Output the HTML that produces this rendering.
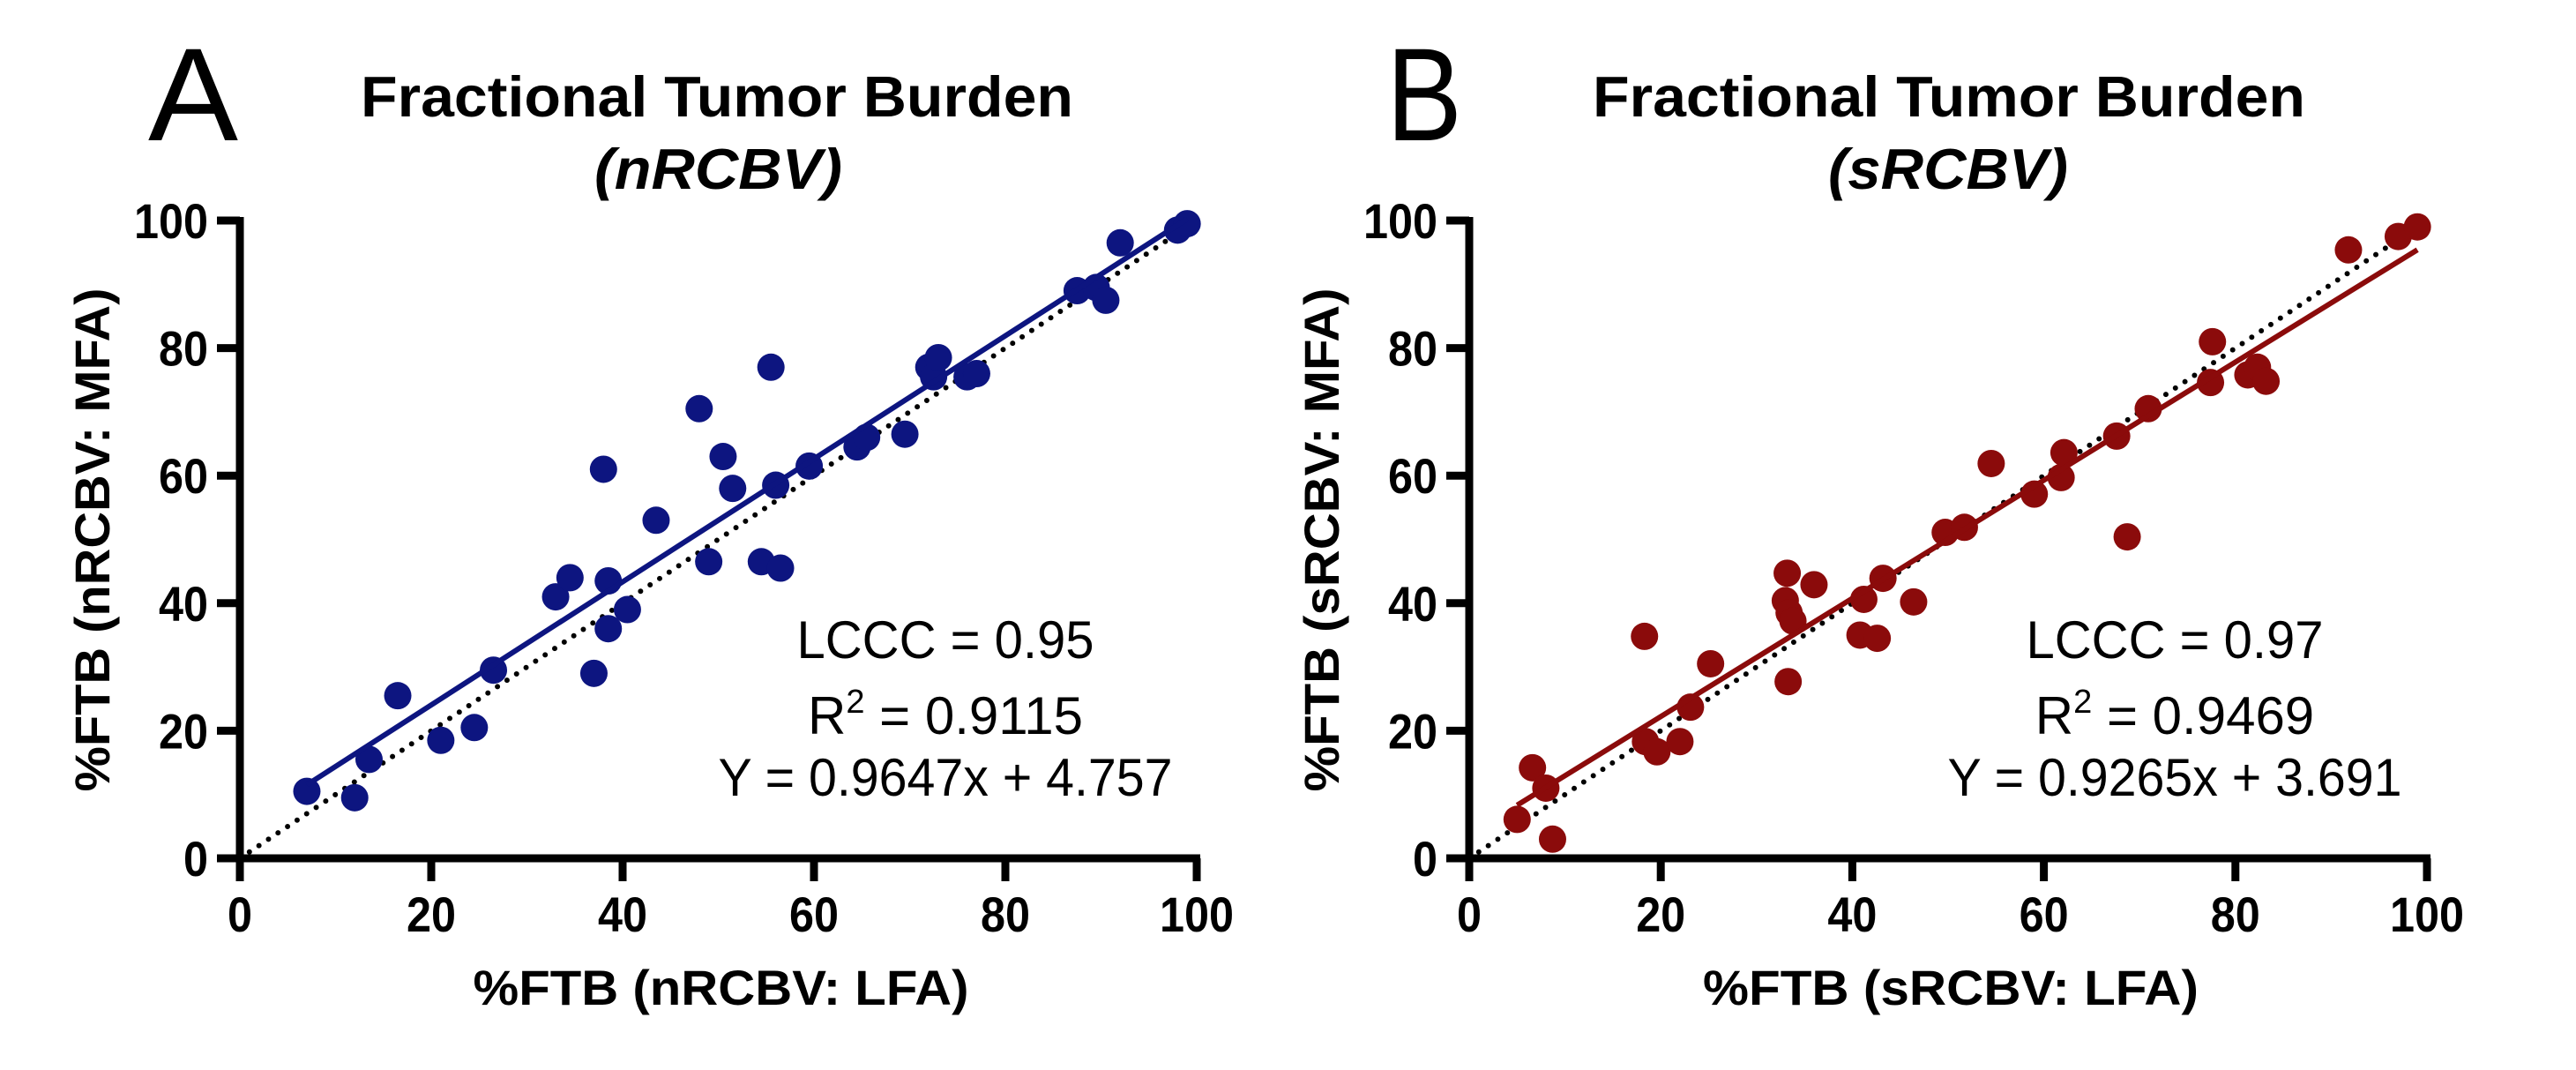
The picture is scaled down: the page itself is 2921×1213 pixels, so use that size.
<!DOCTYPE html>
<html><head><meta charset="utf-8"><style>
html,body{margin:0;padding:0;background:#fff;}
svg{display:block;}
text{font-family:"Liberation Sans Narrow","Liberation Sans",sans-serif;fill:#000;}
</style></head><body>
<svg id="fig" width="2921" height="1213" viewBox="0 0 2921 1213" xmlns="http://www.w3.org/2000/svg">
<rect width="2921" height="1213" fill="#fff"/>
<text x="168" y="159" font-size="150" textLength="102" lengthAdjust="spacingAndGlyphs">A</text>
<text x="1572" y="159" font-size="150" textLength="86" lengthAdjust="spacingAndGlyphs">B</text>
<text x="409" y="132" font-size="65" font-weight="bold" textLength="808" lengthAdjust="spacingAndGlyphs">Fractional Tumor Burden</text>
<text x="674" y="214" font-size="65" font-weight="bold" font-style="italic" textLength="281" lengthAdjust="spacingAndGlyphs">(nRCBV)</text>
<text x="1806" y="132" font-size="65" font-weight="bold" textLength="808" lengthAdjust="spacingAndGlyphs">Fractional Tumor Burden</text>
<text x="2073" y="214" font-size="65" font-weight="bold" font-style="italic" textLength="272" lengthAdjust="spacingAndGlyphs">(sRCBV)</text>
<g id="panelA"></g>
<g id="panelB"></g>
</svg>
<script>
const ticks = [0, 20, 40, 60, 80, 100];
const tickLabels = ["0", "20", "40", "60", "80", "100"];
const aX = [7,12,13.5,16.5,21,24.5,26.5,33,34.5,37,38,38.5,38.5,40.5,43.5,48,49,50.5,51.5,54.5,55.5,56,56.5,59.5,64.5,65.5,69.5,72,72.5,73,76,77,87.5,89.5,90.5,92,98,99];
const aY = [10.5,9.5,15.5,25.5,18.5,20.5,29.5,41,44,29,61,36,43.5,39,53,70.5,46.5,63,58,46.5,77,58.5,45.5,61.5,64.5,66,66.5,77,75.5,78.5,75.5,76,89,89.5,87.5,96.5,98.5,99.5];
const bX = [5,6.6,8,8.7,18.3,18.4,19.6,22,23.1,25.2,33.2,33,33.4,33.8,33.3,36,40.8,41.2,42.6,43.2,46.4,49.7,51.7,54.5,59,61.8,62.1,67.6,68.7,70.9,77.4,77.6,81.3,82.3,83.2,91.8,97,99];
const bY = [6.1,14.2,11,3,34.8,18.3,16.7,18.3,23.7,30.5,44.7,40.4,38.5,37.2,27.7,42.9,35,40.6,34.5,43.9,40.2,51.1,51.9,61.9,57.1,59.7,63.6,66.2,50.4,70.5,74.6,81,75.8,77,74.8,95.4,97.5,99];
const aFit = [0.9647, 4.757];
const bFit = [0.9265, 3.691];
const aStats = ["LCCC = 0.95", "0.9115", "Y = 0.9647x + 4.757"];
const bStats = ["LCCC = 0.97", "0.9469", "Y = 0.9265x + 3.691"];

const NS = "http://www.w3.org/2000/svg";
function mk(parent, tag, attrs, txt){
  const e = document.createElementNS(NS, tag);
  for (const k in attrs) e.setAttribute(k, attrs[k]);
  if (txt !== undefined) e.textContent = txt;
  parent.appendChild(e); return e;
}
function panel(g, cfg){
  const sx = v => cfg.x0 + (cfg.x1 - cfg.x0) * v / 100;
  const sy = v => 973 - (973 - 250) * v / 100;
  const id = mk(g, "line", {x1:sx(0), y1:sy(0), x2:sx(99), y2:sy(99), stroke:"#000", "stroke-width":6, "stroke-dasharray":"0 13", "stroke-linecap":"round"});
  
  
  cfg.xs.forEach((xv, i) => {
    const c = mk(g, "circle", {cx:sx(xv), cy:sy(cfg.ys[i]), r:15.5, fill:cfg.color});
    
    
  });
  const xmin = Math.min(...cfg.xs), xmax = Math.max(...cfg.xs);
  const fl = mk(g, "line", {x1:sx(xmin), y1:sy(cfg.fit[0]*xmin+cfg.fit[1]), x2:sx(xmax), y2:sy(cfg.fit[0]*xmax+cfg.fit[1]), stroke:cfg.color, "stroke-width":6});
  
  
  const ax = mk(g, "path", {d:`M${sx(0)},${sy(100)-4} L${sx(0)},${sy(0)} L${sx(100)+4},${sy(0)}`, stroke:"#000", "stroke-width":9, fill:"none"});
  
  
  ticks.forEach((t, i) => {
    const w = tickLabels[i].length * 28;
    const ty = mk(g, "line", {x1:sx(0)-26, y1:sy(t), x2:sx(0), y2:sy(t), stroke:"#000", "stroke-width":9});
    
    
    const ly = mk(g, "text", {x:sx(0)-36, y:sy(t)+20, "font-size":56, "font-weight":"bold", "text-anchor":"end", textLength:w, lengthAdjust:"spacingAndGlyphs"}, tickLabels[i]);
    
    
    const tx = mk(g, "line", {x1:sx(t), y1:sy(0), x2:sx(t), y2:sy(0)+26, stroke:"#000", "stroke-width":9});
    
    
    const lx = mk(g, "text", {x:sx(t), y:1056, "font-size":56, "font-weight":"bold", "text-anchor":"middle", textLength:w, lengthAdjust:"spacingAndGlyphs"}, tickLabels[i]);
    
    
  });
  const xt = mk(g, "text", {x:(sx(0)+sx(100))/2 + 3, y:1139, "font-size":56, "font-weight":"bold", "text-anchor":"middle", textLength:562, lengthAdjust:"spacingAndGlyphs"}, cfg.xTitle);
  
  
  const yt = mk(g, "text", {x:0, y:0, "font-size":56, "font-weight":"bold", "text-anchor":"middle", textLength:571, lengthAdjust:"spacingAndGlyphs", transform:`translate(${cfg.yTitleX},612) rotate(-90)`}, cfg.yTitle);
  
  
  const s1 = mk(g, "text", {x:cfg.sc, y:746, "font-size":60, "text-anchor":"middle", textLength:337, lengthAdjust:"spacingAndGlyphs"}, cfg.stats[0]);
  
  
  const s2 = mk(g, "text", {x:cfg.sc, y:832, "font-size":60, "text-anchor":"middle"});
  
  
  mk(s2, "tspan", {}, "R");
  mk(s2, "tspan", {"font-size":38, dy:-24}, "2");
  mk(s2, "tspan", {dy:24}, " = " + cfg.stats[1]);
  const s3 = mk(g, "text", {x:cfg.sc, y:902, "font-size":60, "text-anchor":"middle", textLength:515, lengthAdjust:"spacingAndGlyphs"}, cfg.stats[2]);
  
  
}
panel(document.getElementById("panelA"), {x0:272, x1:1357, xs:aX, ys:aY, fit:aFit, color:"#0d1580", xTitle:"%FTB (nRCBV: LFA)", yTitle:"%FTB (nRCBV: MFA)", yTitleX:124, stats:aStats, sc:1072});
panel(document.getElementById("panelB"), {x0:1666, x1:2752, xs:bX, ys:bY, fit:bFit, color:"#8b0b0b", xTitle:"%FTB (sRCBV: LFA)", yTitle:"%FTB (sRCBV: MFA)", yTitleX:1518, stats:bStats, sc:2466});
</script>
</body></html>
